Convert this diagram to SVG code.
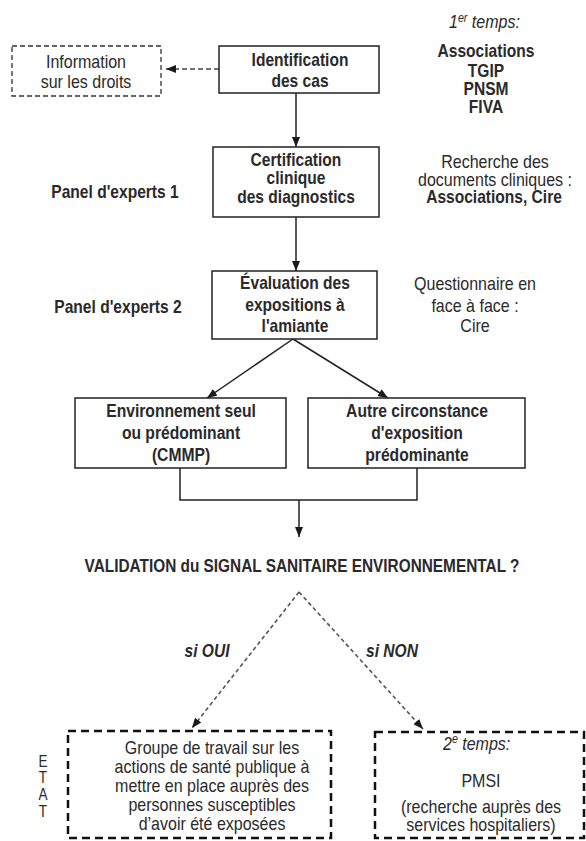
<svg xmlns="http://www.w3.org/2000/svg" width="586" height="841" viewBox="0 0 586 841">
<defs>
<style>
.t{font-family:"Liberation Sans",Arial,sans-serif;fill:#2a2a2a;text-anchor:middle}
.b{font-weight:bold;font-size:18px}
.r{font-size:18px}
.i{font-style:italic}
.box{fill:#fff;stroke:#222;stroke-width:1.5}
.ibox{fill:#fff;stroke:#333;stroke-width:1.3;stroke-dasharray:5 3}
.dbox{fill:#fff;stroke:#111;stroke-width:2.5;stroke-dasharray:8 5}
.ln{stroke:#222;stroke-width:1.5;fill:none}
.dl{stroke:#444;stroke-width:1.3;stroke-dasharray:5 3;fill:none}
.dd{stroke:#555;stroke-width:1.6;stroke-dasharray:4 3;fill:none}
</style>
<marker id="ah" viewBox="0 0 10 8" refX="10" refY="4" markerWidth="10" markerHeight="8" markerUnits="userSpaceOnUse" orient="auto"><path d="M0,0 L10,4 L0,8 z" fill="#1a1a1a"/></marker>
</defs>
<rect width="586" height="841" fill="#fff"/>

<g id="connectors">
<line class="dl" x1="219" y1="69" x2="166" y2="69" marker-end="url(#ah)"/>
<line class="ln" x1="296" y1="93" x2="296" y2="147" marker-end="url(#ah)"/>
<line class="ln" x1="296" y1="217" x2="296" y2="271" marker-end="url(#ah)"/>
<line class="ln" x1="293" y1="339" x2="207" y2="398" marker-end="url(#ah)"/>
<line class="ln" x1="293" y1="339" x2="388" y2="398" marker-end="url(#ah)"/>
<path class="ln" d="M180,468 V500 H417 V468"/>
<line class="ln" x1="299" y1="500" x2="299" y2="537" marker-end="url(#ah)"/>
<line class="dd" x1="299" y1="592" x2="192" y2="728" marker-end="url(#ah)"/>
<line class="dd" x1="299" y1="592" x2="423" y2="729" marker-end="url(#ah)"/>
</g>

<g id="info">
<rect class="ibox" x="12" y="46" width="149" height="50"/>
<g transform="translate(86 0) scale(0.89 1)">
<text class="t r" x="0" y="68">Information</text>
<text class="t r" x="0" y="88">sur les droits</text>
</g>
</g>

<g id="identification">
<rect class="box" x="219" y="46" width="160" height="47"/>
<g transform="translate(300 0) scale(0.865 1)">
<text class="t b" x="0" y="66">Identification</text>
<text class="t b" x="0" y="87">des cas</text>
</g>
</g>

<g id="temps1">
<g transform="translate(449 0) scale(0.89 1)">
<text class="t i r" x="0" y="28" style="text-anchor:start">1<tspan font-size="12" dy="-6">er</tspan><tspan dy="6"> temps:</tspan></text>
</g>
<g transform="translate(486 0) scale(0.865 1)">
<text class="t b" x="0" y="57">Associations</text>
<text class="t b" x="0" y="77">TGIP</text>
<text class="t b" x="0" y="95">PNSM</text>
<text class="t b" x="0" y="113">FIVA</text>
</g>
</g>

<g id="certification">
<rect class="box" x="213" y="147" width="166" height="70"/>
<g transform="translate(296 0) scale(0.865 1)">
<text class="t b" x="0" y="166">Certification</text>
<text class="t b" x="0" y="184">clinique</text>
<text class="t b" x="0" y="203">des diagnostics</text>
</g>
</g>

<g id="panel1">
<g transform="translate(115 0) scale(0.865 1)">
<text class="t b" x="0" y="198">Panel d'experts 1</text>
</g>
</g>

<g id="recherche">
<g transform="translate(495 0) scale(0.89 1)">
<text class="t r" x="0" y="168">Recherche des</text>
<text class="t r" x="0" y="186">documents cliniques :</text>
</g>
<g transform="translate(494 0) scale(0.865 1)">
<text class="t b" x="0" y="203">Associations, Cire</text>
</g>
</g>

<g id="evaluation">
<rect class="box" x="212" y="271" width="165" height="68"/>
<g transform="translate(295 0) scale(0.865 1)">
<text class="t b" x="0" y="289">Évaluation des</text>
<text class="t b" x="0" y="311">expositions à</text>
<text class="t b" x="0" y="332">l'amiante</text>
</g>
</g>

<g id="panel2">
<g transform="translate(118 0) scale(0.865 1)">
<text class="t b" x="0" y="313">Panel d'experts 2</text>
</g>
</g>

<g id="questionnaire">
<g transform="translate(475 0) scale(0.89 1)">
<text class="t r" x="0" y="290">Questionnaire  en</text>
<text class="t r" x="0" y="312">face à face :</text>
<text class="t r" x="0" y="332">Cire</text>
</g>
</g>

<g id="environnement">
<rect class="box" x="75" y="398" width="211" height="70"/>
<g transform="translate(181 0) scale(0.87 1)">
<text class="t b" x="0" y="417">Environnement seul</text>
<text class="t b" x="0" y="439">ou prédominant</text>
<text class="t b" x="0" y="461">(CMMP)</text>
</g>
</g>

<g id="autre">
<rect class="box" x="308" y="398" width="217" height="70"/>
<g transform="translate(417 0) scale(0.87 1)">
<text class="t b" x="0" y="417">Autre circonstance</text>
<text class="t b" x="0" y="439">d'exposition</text>
<text class="t b" x="0" y="461">prédominante</text>
</g>
</g>

<g id="validation">
<g transform="translate(302 0) scale(0.855 1)">
<text class="t b" x="0" y="572">VALIDATION du SIGNAL SANITAIRE ENVIRONNEMENTAL ?</text>
</g>
</g>

<g id="labels">
<g transform="translate(207 0) scale(0.865 1)">
<text class="t b i" x="0" y="657">si OUI</text>
</g>
<g transform="translate(392 0) scale(0.865 1)">
<text class="t b i" x="0" y="657">si NON</text>
</g>
</g>

<g id="etat">
<g transform="translate(43 0) scale(0.85 1)">
<text class="t r" x="0" y="767" style="font-size:16px">E</text>
<text class="t r" x="0" y="783" style="font-size:16px">T</text>
<text class="t r" x="0" y="800" style="font-size:16px">A</text>
<text class="t r" x="0" y="817" style="font-size:16px">T</text>
</g>
</g>

<g id="groupe">
<rect class="dbox" x="68" y="731" width="263" height="107"/>
<g transform="translate(212 0) scale(0.89 1)">
<text class="t r" x="0" y="754">Groupe de travail sur les</text>
<text class="t r" x="0" y="773">actions de santé publique à</text>
<text class="t r" x="0" y="792">mettre en place auprès des</text>
<text class="t r" x="0" y="811">personnes susceptibles</text>
<text class="t r" x="0" y="830">d’avoir été exposées</text>
</g>
</g>

<g id="temps2">
<rect class="dbox" x="375" y="732" width="209" height="106"/>
<g transform="translate(443 0) scale(0.89 1)">
<text class="t r i" x="0" y="750" style="text-anchor:start">2<tspan font-size="12" dy="-7">e</tspan><tspan dy="7">  temps:</tspan></text>
</g>
<g transform="translate(481 0) scale(0.89 1)">
<text class="t r" x="0" y="787">PMSI</text>
<text class="t r" x="0" y="813">(recherche auprès des</text>
<text class="t r" x="0" y="831">services hospitaliers)</text>
</g>
</g>
</svg>
